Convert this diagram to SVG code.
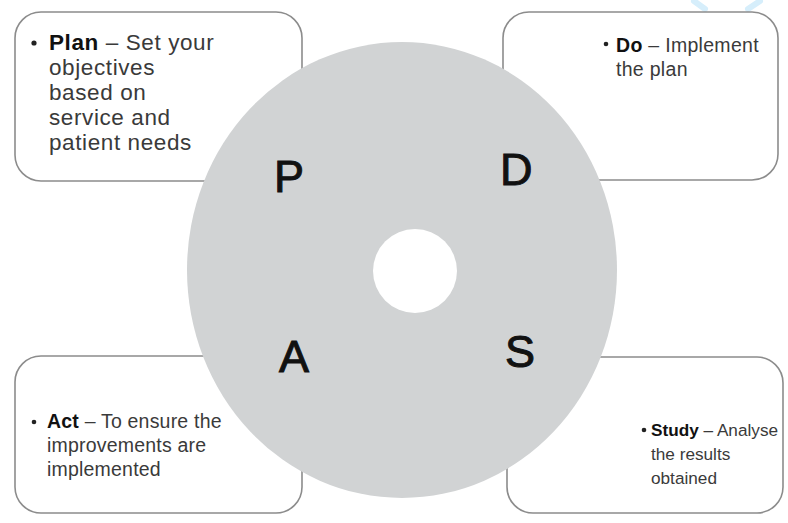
<svg xmlns="http://www.w3.org/2000/svg" width="788" height="523" viewBox="0 0 788 523">
<style>
.box{fill:#fff;stroke:#8c8c8c;stroke-width:1.6}
.t{font-family:"Liberation Sans",Arial,Helvetica,sans-serif;fill:#3a3a3a}
.b{font-weight:bold;fill:#111}
.big{font-family:"Liberation Sans",Arial,Helvetica,sans-serif;font-size:45px;fill:#111;stroke:#111;stroke-width:1}
.dot{fill:#222}
</style>
<rect width="788" height="523" fill="#fff"/>
<path d="M694 1 L705 9 M760 1 L748 9" stroke="#d6eefb" stroke-width="6" fill="none" stroke-linecap="round"/>
<g id="plan">
<rect class="box" x="15" y="12" width="287" height="169" rx="26"/>
<circle class="dot" cx="34" cy="43" r="2.6"/>
<text class="t" font-size="22.5" letter-spacing="0.6" x="49" y="50"><tspan class="b">Plan</tspan> – Set your</text>
<text class="t" font-size="22.5" letter-spacing="0.6" x="49" y="75">objectives</text>
<text class="t" font-size="22.5" letter-spacing="0.6" x="49" y="100">based on</text>
<text class="t" font-size="22.5" letter-spacing="0.6" x="49" y="125">service and</text>
<text class="t" font-size="22.5" letter-spacing="0.6" x="49" y="150">patient needs</text>
</g>
<g id="do">
<rect class="box" x="503" y="12" width="275" height="168" rx="26"/>
<circle class="dot" cx="606" cy="44" r="2.3"/>
<text class="t" font-size="19.5" letter-spacing="0.3" x="616" y="52"><tspan class="b">Do</tspan> – Implement</text>
<text class="t" font-size="19.5" letter-spacing="0.3" x="616" y="76">the plan</text>
</g>
<g id="act">
<rect class="box" x="15" y="356" width="287" height="157" rx="26"/>
<circle class="dot" cx="34" cy="422" r="2.3"/>
<text class="t" font-size="19.5" letter-spacing="0.2" x="47" y="428"><tspan class="b">Act</tspan> – To ensure the</text>
<text class="t" font-size="19.5" letter-spacing="0.2" x="47" y="452">improvements are</text>
<text class="t" font-size="19.5" letter-spacing="0.2" x="47" y="476">implemented</text>
</g>
<g id="study">
<rect class="box" x="507" y="357" width="276" height="156" rx="26"/>
<circle class="dot" cx="644" cy="430" r="2.3"/>
<text class="t" font-size="17.2" x="651" y="436"><tspan class="b">Study</tspan> – Analyse</text>
<text class="t" font-size="17.2" x="651" y="460">the results</text>
<text class="t" font-size="17.2" x="651" y="484">obtained</text>
</g>
<g id="cycle">
<ellipse cx="402" cy="270" rx="215" ry="228" fill="#d1d3d4"/>
<ellipse cx="415" cy="271" rx="42" ry="42" fill="#fff"/>
<text class="big" x="274" y="192">P</text>
<text class="big" x="500" y="185">D</text>
<text class="big" x="279" y="372">A</text>
<text class="big" x="505" y="367">S</text>
</g>
<g id="connectors"></g>
</svg>
